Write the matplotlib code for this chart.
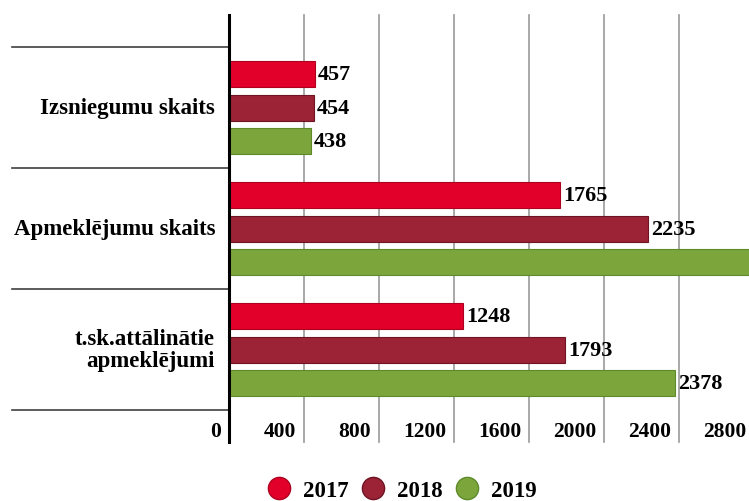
import numpy as np
import matplotlib.pyplot as plt
from matplotlib.transforms import blended_transform_factory
from matplotlib.lines import Line2D

categories = ['Izsniegumu skaits', 'Apmeklējumu skaits', 't.sk.attālinātie\napmeklējumi']
years = ['2017', '2018', '2019']
v2017 = [457, 1765, 1248]
v2018 = [454, 2235, 1793]
v2019 = [438, 3000, 2378]   # middle bar runs off the picture
xticks = [0, 400, 800, 1200, 1600, 2000, 2400, 2800]

colors = ['#E2002A', '#9B2335', '#7CA63C']
edges = ['#B0001F', '#6E1424', '#5E8A2A']

plt.rcParams['font.family'] = ['Liberation Serif', 'DejaVu Serif']
plt.rcParams['font.weight'] = 'bold'

fig = plt.figure(figsize=(7.49, 5.02), dpi=100)
ax = fig.add_axes([229 / 749, 91 / 502, 1 - 229 / 749, (486 - 91) / 502])
ax.patch.set_visible(False)

y = np.arange(len(categories))
pitch = 0.277
h = 0.215
for i, vals in enumerate([v2017, v2018, v2019]):
    bars = ax.barh(y + (i - 1) * pitch, vals, height=h, color=colors[i],
                   edgecolor=edges[i], linewidth=0.8, zorder=3)
    for b, v in zip(bars, vals):
        ax.annotate(str(v), (v, b.get_y() + b.get_height() / 2),
                    xytext=(2, 0), textcoords='offset points',
                    va='center', ha='left', fontsize=16, fontweight='bold',
                    zorder=4, annotation_clip=True)

ax.set_xlim(0, 2773)
ax.set_ylim(2.5, -0.765)

for s in ['top', 'right', 'bottom', 'left']:
    ax.spines[s].set_visible(False)
ax.set_xticks([])
ax.set_yticks([])

# grid lines, stretched down through the tick label row
tr = blended_transform_factory(ax.transData, fig.transFigure)
y0, y1 = (502 - 443) / 502, 486 / 502
for t in xticks[1:]:
    if t < 2773:
        ax.plot([t, t], [y0, y1], transform=tr, color='#999999', lw=1.2,
                zorder=1, clip_on=False)
ax.plot([0, 0], [y0, y1], transform=tr, color='black', lw=2.2, zorder=5,
        clip_on=False)
shift = 8 * 400 / 75
for t in xticks:
    ax.text(t - shift, (502 - 432) / 502, str(t), transform=tr, ha='right',
            va='center', fontsize=15.5, fontweight='bold', clip_on=False)

# category separators on the left
tr2 = blended_transform_factory(fig.transFigure, ax.transData)
for s in [-0.5, 0.5, 1.5, 2.5]:
    ax.plot([12 / 749, 229 / 749], [s, s], transform=tr2, color='#404040',
            lw=1.2, clip_on=False)
for yi, c in zip(y, categories):
    ax.text(215 / 749, yi, c, transform=tr2, ha='right', va='center',
            fontsize=16.5, fontweight='bold', linespacing=1.1)

handles = [Line2D([], [], marker='o', ls='', markersize=16,
                  markerfacecolor=colors[i], markeredgecolor=edges[i])
           for i in range(3)]
fig.legend(handles, years, loc='center', bbox_to_anchor=(0.537, 0.02),
           ncol=3, frameon=False, fontsize=16.5, handlelength=1.0,
           handletextpad=0.55, columnspacing=0.55, borderpad=0)

fig.savefig('out.png', dpi=100)
